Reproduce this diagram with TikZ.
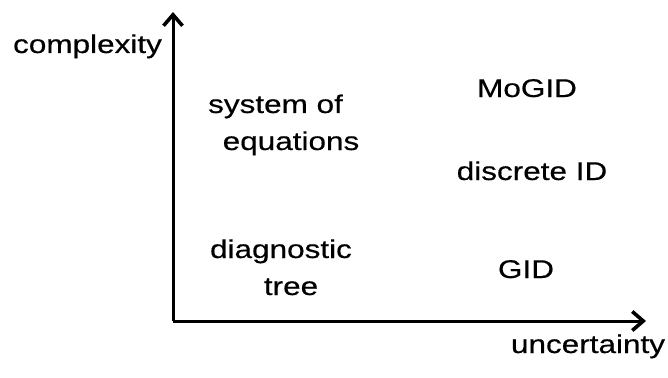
\documentclass[tikz,border=0pt]{standalone}
\usepackage{fontspec}
\setmainfont[FakeStretch=1.23,FakeBold=0.4]{Liberation Sans}
\usetikzlibrary{arrows.meta}
\begin{document}
\begin{tikzpicture}[x=1pt,y=-1pt,
  lbl/.style={anchor=base,inner sep=0pt,font=\fontsize{25.6pt}{30pt}\selectfont},
  axis/.style={line width=3pt,-{Straight Barb[length=11pt,width=19pt,line width=3.6pt]}}]
\useasboundingbox (0,0) rectangle (668,377);
\coordinate (o) at (173,321);
\coordinate (ytip) at (173,12);
\coordinate (xtip) at (646,321);
\draw[axis] (o) -- (ytip);
\draw[axis] (o) -- (xtip);
\node[lbl] (cx) at (87.5,53) {complexity};
\node[lbl] (unc) at (588,353) {uncertainty};
\node[lbl] (sys) at (275.5,113) {system of};
\node[lbl] (eq) at (291,150) {equations};
\node[lbl] (mogid) at (527,97) {MoGID};
\node[lbl] (did) at (532,180) {discrete ID};
\node[lbl] (diag) at (281,258) {diagnostic};
\node[lbl] (tree) at (291,295) {tree};
\node[lbl] (gid) at (526,278) {GID};
\end{tikzpicture}
\end{document}
